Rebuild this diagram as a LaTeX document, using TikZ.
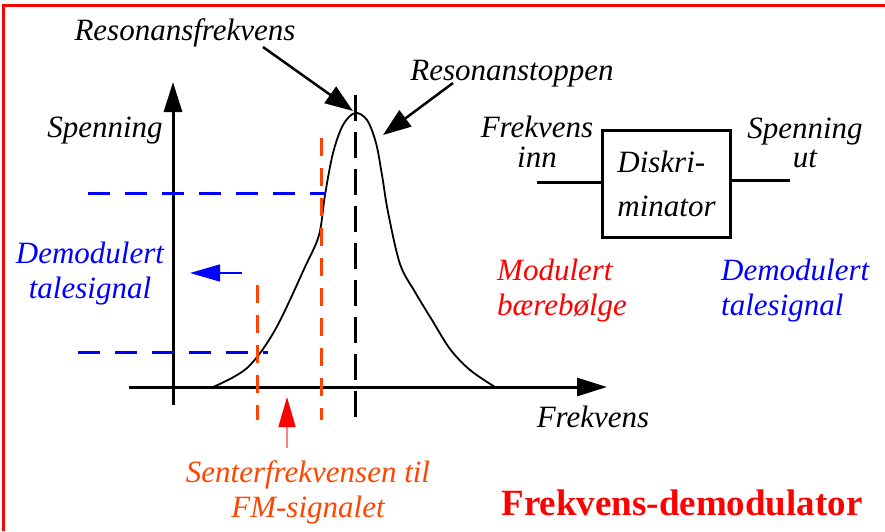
\documentclass[tikz,border=0pt]{standalone}
\usepackage{fontspec}
\setmainfont{Liberation Serif}[ItalicFont={Liberation Serif Italic}, BoldFont={Liberation Serif Bold}]
\usetikzlibrary{arrows.meta}
\definecolor{senterorange}{HTML}{FF4500}
\begin{document}
\begin{tikzpicture}[x=1pt, y=-1pt,
    lbl/.style={font=\fontsize{31}{35}\selectfont\itshape, inner sep=0pt, anchor=base, align=center},
    axisline/.style={line width=3pt, -{Triangle[length=30pt, width=18pt]}},
    pointer/.style={line width=2.5pt, -{Triangle[length=28pt, width=20pt]}}]
    \useasboundingbox (0,0) rectangle (885,531);
    % frame
    \draw[red, line width=3pt] (3,531) -- (3,5) -- (885,5);

    % axes and resonance curve
    \coordinate (ybot) at (173,405);
    \coordinate (ytop) at (173,82);
    \coordinate (xleft) at (129,387);
    \coordinate (xright) at (607,387);
    \draw[axisline] (ybot) -- (ytop);
    \draw[axisline] (xleft) -- (xright);
    \draw[line width=1.8pt] plot[smooth, tension=0.55] coordinates {(213,387) (247,368) (275,330) (305,267) (319,235) (325,195) (333,153) (343,125) (355,113) (367,120) (376,143) (382,175) (388,212) (400,264) (415,292) (432,320) (450,349) (470,370) (495,387)};

    % dashed guide lines
    \draw[line width=3pt, dash pattern=on 26pt off 11pt] (355,95) -- (355,428);
    \draw[senterorange, line width=3pt, dash pattern=on 18pt off 12pt] (321,138) -- (321,420);
    \draw[senterorange, line width=3pt, dash pattern=on 18pt off 12pt] (257,285) -- (257,420);
    \draw[blue, line width=3pt, dash pattern=on 22pt off 15pt] (88,193) -- (326,193);
    \draw[blue, line width=3pt, dash pattern=on 22pt off 15pt] (78,352) -- (268,352);

    % labels round the graph
    \node[lbl] (resfrek) at (185,40) {Resonansfrekvens};
    \node[lbl] (restopp) at (512,80) {Resonanstoppen};
    \node[lbl] (spenning) at (105,137) {Spenning};
    \node[lbl] (frekvens) at (593,427) {Frekvens};
    \node[lbl, blue] (demleft) at (90,298) {Demodulert\\talesignal};
    \node[lbl, senterorange] (senter) at (308,517) {Senterfrekvensen til\\FM-signalet};

    \coordinate (peak) at (353,111);
    \coordinate (topp) at (383,135);
    \coordinate (resfrekend) at (263,47);
    \coordinate (restoppend) at (453,83);
    \draw[pointer] (resfrekend) -- (peak);
    \draw[pointer] (restoppend) -- (topp);

    \coordinate (demstart) at (242,273);
    \coordinate (demtip) at (190,273);
    \draw[blue, line width=1.5pt, -{Triangle[length=30pt, width=17pt]}] (demstart) -- (demtip);
    \coordinate (senterstart) at (287,448);
    \coordinate (sentertip) at (287,397);
    \draw[red!50, line width=1.5pt, -{Triangle[length=30pt, width=17pt, color=red, fill=red]}] (senterstart) -- (sentertip);

    % discriminator block
    \node[draw, line width=3pt, minimum width=128pt, minimum height=107pt, inner sep=0pt,
          font=\fontsize{31}{44}\selectfont\itshape, align=left] (disk) at (666.5,184) {Diskri-\\minator};
    \coordinate (inn) at (537,182);
    \coordinate (ut) at (790,180);
    \draw[line width=3pt] (inn) -- (inn -| disk.west);
    \draw[line width=3pt] (disk.east |- ut) -- (ut);
    \node[lbl, font=\fontsize{31}{30}\selectfont\itshape] (frekinn) at (537,167) {Frekvens\\inn};
    \node[lbl, font=\fontsize{31}{29}\selectfont\itshape] (spenut) at (805,167) {Spenning\\ut};
    \node[lbl, red, anchor=base west, align=left] (modulert) at (497,315) {Modulert\\bærebølge};
    \node[lbl, blue, anchor=base west, align=left] (demright) at (721,315) {Demodulert\\talesignal};

    % title
    \node[inner sep=0pt, anchor=base, red, font=\fontsize{37}{40}\selectfont\bfseries] (title) at (682,515) {Frekvens-demodulator};
\end{tikzpicture}
\end{document}
